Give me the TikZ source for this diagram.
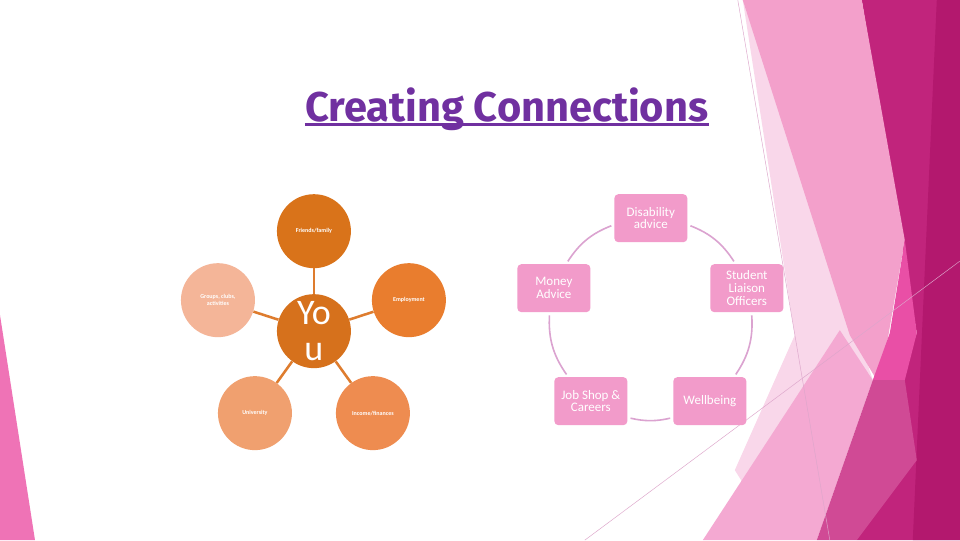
\documentclass[tikz,border=0pt]{standalone}
\usepackage{fontspec}
\setmainfont{Carlito}
\newfontfamily\headfont{Fira Sans}
\definecolor{titlepurple}{HTML}{7030A0}
\definecolor{friendsorange}{HTML}{D9731A}
\definecolor{youorange}{HTML}{D6711C}
\definecolor{jobsorange}{HTML}{E97D2E}
\definecolor{moneyorange}{HTML}{EE8C50}
\definecolor{uniorange}{HTML}{F0A06F}
\definecolor{groupsorange}{HTML}{F4B598}
\definecolor{spokeorange}{HTML}{DE7C2E}
\definecolor{cardpink}{HTML}{F29BCA}
\definecolor{ringmauve}{HTML}{DBA3D0}
\definecolor{facetpale}{HTML}{F9D7EA}
\definecolor{facetpink}{HTML}{F3A0CB}
\definecolor{facetrose}{HTML}{F4A9D2}
\definecolor{facetbright}{HTML}{E94FA6}
\definecolor{facetdeep}{HTML}{D04A95}
\definecolor{facetmag}{HTML}{C1247C}
\definecolor{facetdark}{HTML}{B3186E}
\definecolor{facetline}{HTML}{DDA6CB}
\definecolor{sliverpink}{HTML}{EF73B6}
\tikzset{
  bub/.style={circle, minimum size=55.5pt, inner sep=0pt, text=white,
    font=\bfseries\fontsize{4.5}{5.2}\selectfont, align=center},
  spoke/.style={draw=spokeorange, line width=1.9pt},
  card/.style={rectangle, rounded corners=3pt, fill=cardpink, minimum width=54.75pt,
    minimum height=36pt, inner sep=0pt, text=white, align=center,
    font=\fontsize{9.75}{9.5}\selectfont},
  ring/.style={draw=ringmauve, line width=1.2pt, shorten <=2.25pt, shorten >=2.25pt},
  facet/.style={draw=facetline, line width=0.35pt}
}
\begin{document}
\begin{tikzpicture}[x=0.75pt, y=-0.75pt]
    \fill[white] (0,0) rectangle (960,540);
    % background facets
    \fill[sliverpink] (0,315) -- (35,540) -- (0,540) -- cycle;
    \fill[facetmag] (862,0) -- (960,0) -- (960,540) -- (857,540) -- (900,380) -- (917,333) -- cycle;
    \fill[facetdark] (937,0) -- (960,0) -- (960,540) -- (913,540) -- cycle;
    \fill[facetpale] (743,0) -- (860,340) -- (873,380) -- (760,510) -- (735,470) -- (795,335) -- cycle;
    \fill[facetpink] (743,0) -- (862,0) -- (905,240) -- (880,385) -- (850,335) -- cycle;
    \fill[facetrose] (703,540) -- (817,540) -- (873,380) -- (840,330) -- cycle;
    \fill[facetbright] (873,380) -- (890,333) -- (905,240) -- (917,333) -- (905,380) -- cycle;
    \fill[facetdeep] (817,540) -- (873,380) -- (905,380) -- (917,460) -- (857,540) -- cycle;
    \draw[facet] (738,0) -- (830,540);
    \draw[facet] (585,540) -- (960,261);

    \node[font=\headfont\bfseries\fontsize{31.2}{36}\selectfont, text=titlepurple,
        anchor=base west, inner sep=0pt] (ttl) at (305,121) {Creating Connections};
    \draw[titlepurple, line width=1.9pt] ([yshift=-2.6pt]ttl.base west) -- ([yshift=-2.6pt]ttl.base east);

    % you and the people round you
    \node[bub, fill=youorange, font=\fontsize{27}{27.5}\selectfont] (you) at (314,331) {Yo\\u};
    \node[bub, fill=friendsorange] (fri) at (314,231) {Friends/family};
    \node[bub, fill=jobsorange] (emp) at (409,300) {Employment};
    \node[bub, fill=moneyorange] (fin) at (373,413) {Income/finances};
    \node[bub, fill=uniorange] (uni) at (255,413) {University};
    \node[bub, fill=groupsorange] (grp) at (218,300) {Groups, clubs,\\activities};
    \foreach \n in {fri,emp,fin,uni,grp}
        \draw[spoke] (you) -- (\n);

    % support services
    \node[card] (dis) at (651,218) {Disability\\advice};
    \node[card] (stu) at (747,288) {Student\\Liaison\\Officers};
    \node[card] (wel) at (710,401) {Wellbeing};
    \node[card] (job) at (591,401) {Job Shop \&\\Careers};
    \node[card] (mon) at (554,288) {Money\\Advice};
    \draw[ring] (dis.-10) to[bend left=18] (stu.115);
    \draw[ring] (stu.-79) to[bend left=19] (wel.45);
    \draw[ring] (wel.204) to[bend left=13] (job.336);
    \draw[ring] (job.133) to[bend left=19] (mon.260);
    \draw[ring] (mon.63) to[bend left=18] (dis.190);
\end{tikzpicture}
\end{document}
